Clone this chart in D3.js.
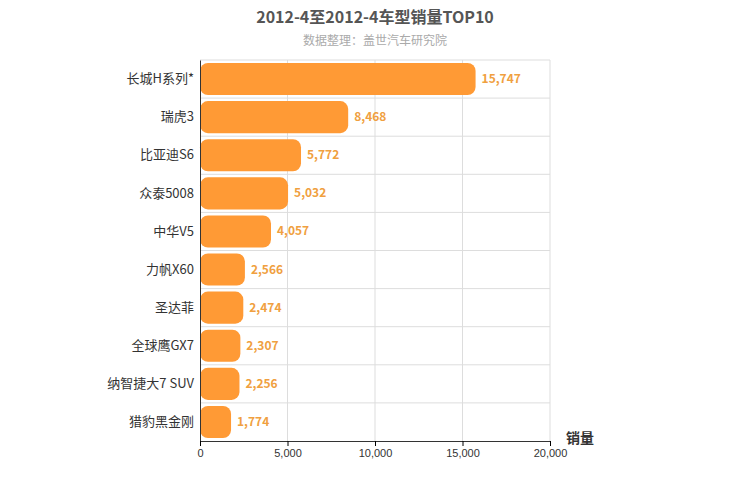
<!DOCTYPE html>
<html><head><meta charset="utf-8">
<script src="https://cdn.jsdelivr.net/npm/d3@7"></script>
<style>body{margin:0;font-family:"Noto Sans CJK SC","Liberation Sans",sans-serif;}</style>
</head><body><svg width="750" height="500"></svg>
<script>
const models = ["长城H系列*", "瑞虎3", "比亚迪S6", "众泰5008", "中华V5", "力帆X60", "圣达菲", "全球鹰GX7", "纳智捷大7 SUV", "猎豹黑金刚"];
const sales = [15747, 8468, 5772, 5032, 4057, 2566, 2474, 2307, 2256, 1774];
const xTicks = [0, 5000, 10000, 15000, 20000];

const svg = d3.select("svg");
const plotLeft = 200, plotRight = 550, plotTop = 60, plotBottom = 441;
const x = d3.scaleLinear().domain([0, 20000]).range([plotLeft, plotRight]);
const y = d3.scaleBand().domain(models).range([plotTop, plotBottom]);

svg.append("text").attr("x", 375).attr("y", 23).attr("text-anchor", "middle")
    .style("font-size", "16px").style("font-weight", "bold").attr("fill", "#555")
    .text("2012-4至2012-4车型销量TOP10");
svg.append("text").attr("x", 375).attr("y", 45).attr("text-anchor", "middle")
    .style("font-size", "12px").attr("fill", "#aaa").text("数据整理：盖世汽车研究院");

// grid
svg.selectAll(".vg").data(xTicks.slice(1)).join("line")
    .attr("x1", d => x(d)).attr("x2", d => x(d)).attr("y1", plotTop).attr("y2", plotBottom)
    .attr("stroke", "#ddd");
svg.selectAll(".hg").data(models).join("line")
    .attr("x1", plotLeft).attr("x2", plotRight).attr("y1", d => y(d)).attr("y2", d => y(d))
    .attr("stroke", "#ddd");

// bars
svg.selectAll(".bar").data(models).join("rect")
    .attr("x", plotLeft).attr("y", d => y(d) + 3)
    .attr("width", (d, i) => x(sales[i]) - plotLeft).attr("height", y.bandwidth() - 6)
    .attr("rx", 8).attr("fill", "#ff9a35");
svg.selectAll(".val").data(models).join("text")
    .attr("x", (d, i) => x(sales[i]) + 6).attr("y", d => y(d) + y.bandwidth() / 2 + 4)
    .style("font-size", "12px").style("font-weight", "bold").attr("fill", "#f0a040")
    .text((d, i) => d3.format(",")(sales[i]));

// axes
svg.append("g").attr("transform", `translate(${plotLeft},0)`)
    .call(d3.axisLeft(y).tickSize(0).tickPadding(6))
    .call(g => g.select(".domain").attr("stroke", "#333"))
    .call(g => g.selectAll("text").style("font-size", "13px").attr("fill", "#333")
        .style("font-family", "'Noto Sans CJK SC',sans-serif"));
svg.append("g").attr("transform", `translate(0,${plotBottom})`)
    .call(d3.axisBottom(x).tickValues(xTicks).tickFormat(d3.format(",")).tickSize(5))
    .call(g => g.select(".domain").attr("stroke", "#333"))
    .call(g => g.selectAll("text").style("font-size", "11px").attr("fill", "#333"));

svg.append("text").attr("x", 580).attr("y", 443).attr("text-anchor", "middle")
    .style("font-size", "14px").style("font-weight", "bold").attr("fill", "#333").text("销量");
</script></body></html>
